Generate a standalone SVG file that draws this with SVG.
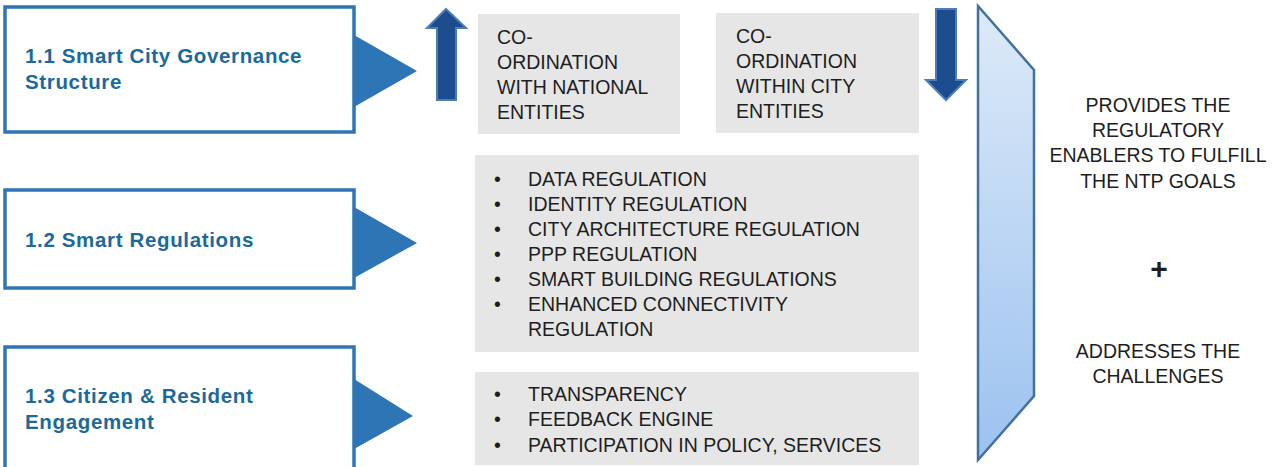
<svg xmlns="http://www.w3.org/2000/svg" width="1277" height="467" viewBox="0 0 1277 467">
<defs>
<linearGradient id="pg" x1="0" y1="0" x2="0" y2="1">
<stop offset="0" stop-color="#DEEAF8"/>
<stop offset="1" stop-color="#9BC2F0"/>
</linearGradient>
<style>
.box{fill:#FFFFFF;stroke:#2E75B6;stroke-width:3.5}
.tri{fill:#2E75B6}
.lbl{font-family:"Liberation Sans",Arial,sans-serif;font-weight:bold;font-size:20.5px;letter-spacing:0.65px;fill:#1B6A9C}
.gray{fill:#E7E6E6}
.txt{font-family:"Liberation Sans",Arial,sans-serif;font-size:19.5px;fill:#1E1E1E}
.arr{fill:#1C4B8E;stroke:#4A7EB5;stroke-width:2}
.panel{fill:url(#pg);stroke:#41719C;stroke-width:2.5}
</style>
</defs>

<g id="node-governance">
<rect class="box" x="5" y="7" width="349" height="125"/>
<polygon class="tri" points="354,35 354,107 417,71"/>
<text class="lbl" x="25" y="63">1.1 Smart City Governance</text>
<text class="lbl" x="25" y="89">Structure</text>
</g>

<g id="node-regulations">
<rect class="box" x="5" y="190" width="349" height="98"/>
<polygon class="tri" points="354,207 354,278 417,243"/>
<text class="lbl" x="25" y="247">1.2 Smart Regulations</text>
</g>

<g id="node-engagement">
<rect class="box" x="5" y="347" width="349" height="130"/>
<polygon class="tri" points="354,379 354,449 413,416"/>
<text class="lbl" x="25" y="403">1.3 Citizen &amp; Resident</text>
<text class="lbl" x="25" y="429">Engagement</text>
</g>

<g id="node-national">
<rect class="gray" x="478" y="14" width="202" height="120"/>
<text class="txt" x="497" y="44">CO-</text>
<text class="txt" x="497" y="69">ORDINATION</text>
<text class="txt" x="497" y="94">WITH NATIONAL</text>
<text class="txt" x="497" y="119">ENTITIES</text>
</g>

<g id="node-city">
<rect class="gray" x="716" y="13" width="203" height="120"/>
<text class="txt" x="736" y="43">CO-</text>
<text class="txt" x="736" y="68">ORDINATION</text>
<text class="txt" x="736" y="93">WITHIN CITY</text>
<text class="txt" x="736" y="118">ENTITIES</text>
</g>

<g id="node-regulation-list">
<rect class="gray" x="475" y="155" width="444" height="197"/>
<g class="txt">
<text x="494" y="186">•</text><text x="528" y="186">DATA REGULATION</text>
<text x="494" y="211">•</text><text x="528" y="211">IDENTITY REGULATION</text>
<text x="494" y="236">•</text><text x="528" y="236">CITY ARCHITECTURE REGULATION</text>
<text x="494" y="261">•</text><text x="528" y="261">PPP REGULATION</text>
<text x="494" y="286">•</text><text x="528" y="286">SMART BUILDING REGULATIONS</text>
<text x="494" y="311">•</text><text x="528" y="311">ENHANCED CONNECTIVITY</text>
<text x="528" y="336">REGULATION</text>
</g>
</g>

<g id="node-engagement-list">
<rect class="gray" x="475" y="372" width="444" height="93"/>
<g class="txt">
<text x="494" y="401">•</text><text x="528" y="401">TRANSPARENCY</text>
<text x="494" y="426">•</text><text x="528" y="426">FEEDBACK ENGINE</text>
<text x="494" y="452">•</text><text x="528" y="452">PARTICIPATION IN POLICY, SERVICES</text>
</g>
</g>

<g id="node-outcome">
<polygon class="panel" points="978,6 1034,70 1034,396 978,460"/>
<g class="txt" text-anchor="middle">
<text x="1158" y="112">PROVIDES THE</text>
<text x="1158" y="137">REGULATORY</text>
<text x="1158" y="162">ENABLERS TO FULFILL</text>
<text x="1158" y="188">THE NTP GOALS</text>
<text x="1159" y="279" font-weight="bold" font-size="30">+</text>
<text x="1158" y="358">ADDRESSES THE</text>
<text x="1158" y="383">CHALLENGES</text>
</g>
</g>

<g id="connectors">
<polygon class="arr" points="446,9 466,28 456,28 456,100 437,100 437,28 427,28"/>
<polygon class="arr" points="936,9 956,9 956,80 966,80 946,100 926,80 936,80"/>
</g>
</svg>
